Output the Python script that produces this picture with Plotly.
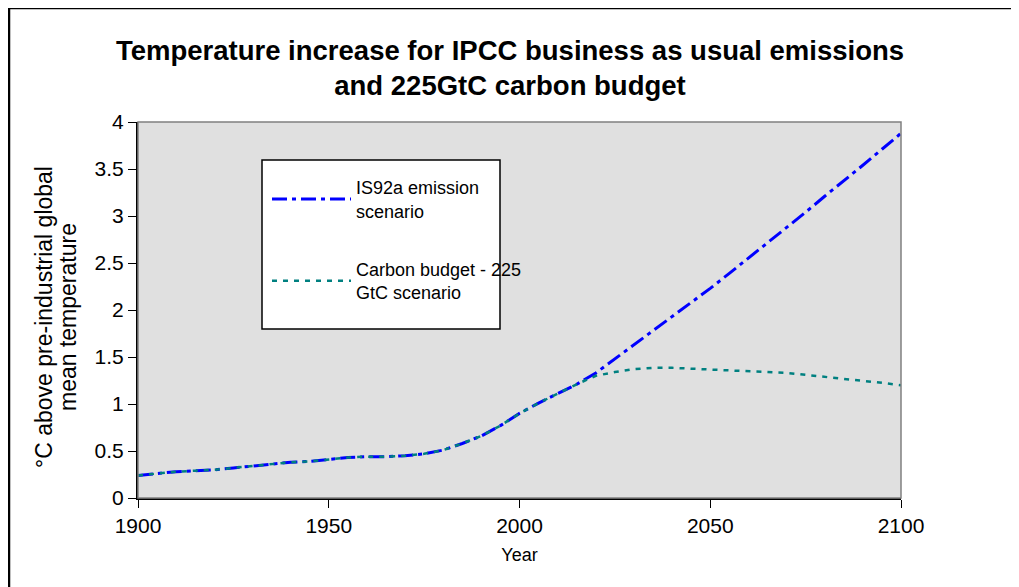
import plotly.graph_objects as go

BLUE = "#0000FF"
TEAL = "#008080"
FONT = "Liberation Sans, Arial"

years = [1900, 1905, 1910, 1915, 1920, 1925, 1930, 1935, 1940, 1945,
         1950, 1955, 1960, 1965, 1970, 1975, 1980, 1985, 1990, 1995,
         2000, 2005, 2010, 2015, 2020, 2025, 2030, 2035, 2040, 2045,
         2050, 2055, 2060, 2065, 2070, 2075, 2080, 2085, 2090, 2095, 2100]

# IS92a business-as-usual temperature rise (deg C)
is92a = [0.24, 0.26, 0.28, 0.29, 0.30, 0.32, 0.34, 0.36, 0.38, 0.39,
         0.41, 0.43, 0.44, 0.44, 0.45, 0.47, 0.51, 0.58, 0.66, 0.77,
         0.90, 1.01, 1.11, 1.21, 1.33, 1.48, 1.63, 1.78, 1.93, 2.08,
         2.23, 2.39, 2.55, 2.71, 2.88, 3.04, 3.21, 3.37, 3.54, 3.71, 3.88]

# 225 GtC carbon budget scenario
budget = [0.24, 0.26, 0.28, 0.29, 0.30, 0.32, 0.34, 0.36, 0.38, 0.39,
          0.41, 0.43, 0.44, 0.44, 0.45, 0.47, 0.51, 0.58, 0.66, 0.77,
          0.90, 1.01, 1.11, 1.21, 1.30, 1.34, 1.37, 1.385, 1.385, 1.375,
          1.365, 1.355, 1.35, 1.34, 1.33, 1.31, 1.29, 1.27, 1.25, 1.225, 1.20]

y_ticks = [0, 0.5, 1, 1.5, 2, 2.5, 3, 3.5, 4]
x_ticks = [1900, 1950, 2000, 2050, 2100]
y_title = ["°C above pre-industrial global", "mean temperature"]

# page body adds 8px margin, so the figure is 8px smaller than the window
W, H = 1011, 579
L, R, T, B = 130, 118, 114, 89
PW, PH = W - L - R, H - T - B


def px_x(v):
    return (v - L) / PW


def px_y(v):
    return (H - B - v) / PH


fig = go.Figure()
fig.add_trace(go.Scatter(
    x=years, y=is92a, mode="lines", name="IS92a emission<br>scenario",
    line=dict(color=BLUE, width=3, dash="15px,5px,4px,5px"), legendgroup="a",
))
fig.add_trace(go.Scatter(
    x=years, y=budget, mode="lines", name="Carbon budget - 225<br>GtC scenario",
    line=dict(color=TEAL, width=2.5, dash="5px,6px"), legendgroup="b",
))

# y-axis title as two rotated lines (tighter leading than plotly's <br>)
for i, line in enumerate(y_title):
    fig.add_annotation(
        text=line, xref="paper", yref="paper", x=px_x(36 + 24 * i), y=px_y(309),
        textangle=-90, showarrow=False, xanchor="center", yanchor="middle",
        font=dict(size=23),
    )

fig.update_layout(
    width=W, height=H,
    font=dict(family=FONT, size=21, color="black"),
    paper_bgcolor="white", plot_bgcolor="#E0E0E0",
    margin=dict(l=L, r=R, t=T, b=B),
    title=dict(
        text="<b>Temperature increase for IPCC business as usual emissions<br>and 225GtC carbon budget</b>",
        font=dict(size=27.5), x=502 / W, xanchor="center", y=1 - 51.5 / H, yanchor="middle",
    ),
    legend=dict(
        x=px_x(259), y=px_y(161), xanchor="left", yanchor="top",
        bgcolor="rgba(0,0,0,0)", borderwidth=0, itemwidth=79,
        font=dict(size=18), tracegroupgap=32,
    ),
    shapes=[
        # legend box
        dict(type="rect", xref="paper", yref="paper",
             x0=px_x(254), x1=px_x(492), y0=px_y(321), y1=px_y(152),
             fillcolor="white", line=dict(color="black", width=1.5), layer="below"),
        # plot area frame
        dict(type="rect", xref="paper", yref="paper", x0=0, x1=1, y0=0, y1=1,
             line=dict(color="#808080", width=1.5), layer="above"),
        # outer chart border
        dict(type="rect", xref="paper", yref="paper",
             x0=px_x(1), x1=px_x(1005), y0=px_y(620), y1=px_y(0),
             line=dict(color="black", width=2.5)),
    ],
)
fig.update_xaxes(
    range=[1900, 2100], tickvals=x_ticks, showgrid=False, zeroline=False,
    showline=True, linecolor="black", linewidth=2, ticks="outside", ticklen=8,
    tickcolor="black", title=dict(text="Year", standoff=12, font=dict(size=18)),
)
fig.update_yaxes(
    range=[0, 4], tickvals=y_ticks, showgrid=False, zeroline=False,
    showline=True, linecolor="black", linewidth=2, ticks="outside", ticklen=8,
    tickcolor="black",
)

fig.write_html("out.html")
